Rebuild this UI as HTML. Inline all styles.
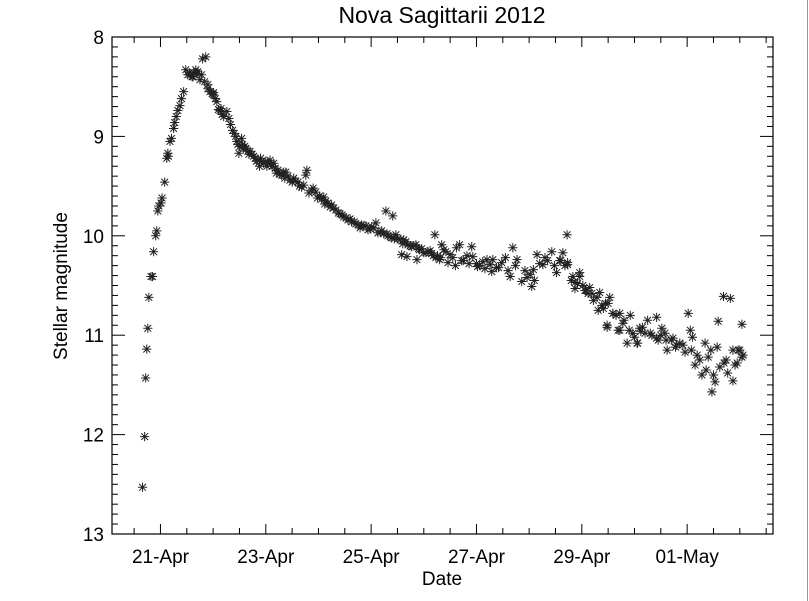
<!DOCTYPE html>
<html><head><meta charset="utf-8"><style>
html,body{margin:0;padding:0;background:#fff;}
svg{display:block;font-family:"Liberation Sans",Arial,sans-serif;}
</style></head><body>
<svg id="chart" width="809" height="601" viewBox="0 0 809 601">
<rect x="0" y="0" width="809" height="601" fill="#fff"/>
<line x1="807.5" y1="0" x2="807.5" y2="601" stroke="#999" stroke-width="1"/>
<text x="442" y="23" font-size="23" text-anchor="middle" fill="#000">Nova Sagittarii 2012</text>
<text x="442" y="585" font-size="19" text-anchor="middle" fill="#000">Date</text>
<text transform="translate(67,286) rotate(-90)" font-size="19" text-anchor="middle" fill="#000">Stellar magnitude</text>
<g id="ticks"></g>
<g id="marks"></g>
<rect x="112" y="37" width="661" height="497" fill="none" stroke="#000" stroke-width="1.2"/>
</svg>
<script>
// days since 21-Apr-2012 (00:00)
const dates = [-0.34,-0.30,-0.28,-0.26,-0.24,-0.22,-0.18,-0.15,-0.13,-0.09,-0.07,-0.05,-0.03,0.01,0.03,0.08,0.12,0.14,0.15,0.18,0.21,0.25,0.27,0.30,0.33,0.37,0.40,0.44,0.48,0.52,0.56,0.60,0.63,0.67,0.71,0.75,0.80,0.86,0.78,0.84,0.90,0.94,0.98,1.01,1.04,1.07,1.10,1.13,1.17,1.20,1.26,1.30,1.37,1.40,1.43,1.45,1.49,1.51,1.54,1.56,1.60,1.62,1.66,1.70,1.74,1.77,1.80,1.85,1.88,1.92,1.96,
2.00,2.08,2.15,2.23,2.30,2.38,2.46,2.53,2.61,2.68,2.78,2.76,2.87,2.95,3.02,3.10,3.18,3.25,3.33,3.41,3.48,3.56,3.63,3.71,3.79,3.86,3.94,4.01,4.09,4.17,4.24,4.32,4.39,4.28,4.41,4.47,4.55,4.62,4.70,4.77,4.85,4.92,5.00,5.08,5.15,5.23,5.30,4.58,4.68,4.87,5.21,
5.34,5.42,5.50,5.68,5.91,5.93,6.12,6.31,6.29,6.48,6.69,6.77,6.64,6.86,7.05,7.02,7.15,7.26,7.43,7.52,7.64,7.73,7.72,7.83,7.96,7.87,8.02,8.12,8.29,8.53,8.41,8.59,8.92,8.48,8.72,8.97,8.86,9.06,
7.73,7.87,7.96,8.06,8.19,8.34,8.31,8.48,8.59,8.72,8.69,9.05,9.10,9.25,9.42,9.52,9.42,9.62,9.73,9.86,9.96,10.02,10.06,10.19,10.15,10.28,10.34,10.40,10.47,10.53,10.57,10.59,10.69,10.82,10.70,10.77,10.87,10.91,10.87,11.00,11.04,11.04,10.97,
9.20,9.33,9.58,9.80,2.04,2.12,2.20,2.34,2.42,2.57,2.72,2.90,3.06,3.14,3.29,3.45,3.60,3.75,3.90,4.05,4.20,4.36,4.51,4.66,4.81,4.96,5.12,5.26,5.38,5.55,5.62,5.75,5.82,6.00,6.06,6.20,6.38,6.55,6.92,7.10,7.35,7.58,8.15,8.45,8.80,9.15,9.50,9.70,10.10,10.45,
0.55,0.62,0.69,0.90,1.00,1.15,1.33,1.47,1.58,1.68,1.82,1.90,2.02,2.10,2.18,2.27,2.36,2.50,2.64,2.82,2.98,3.12,3.22,3.38,3.52,3.68,3.82,3.98,4.13,4.30,4.44,4.60,4.74,4.90,5.04,5.18,5.32,5.46,5.60,5.72,5.86,6.02,6.16,6.26,6.42,6.60,6.74,6.96,7.08,7.20,7.30,7.48,7.60,7.68,7.80,7.92,8.08,8.22,8.38,8.50,8.65,8.78,8.90,9.00,9.12,9.30,9.45,9.60,9.78,9.92,10.08,10.24,10.36,10.50,10.62,10.74,10.95,11.06];
const mags = [12.53,12.02,11.43,11.14,10.93,10.62,10.41,10.41,10.16,10.00,9.95,9.75,9.70,9.67,9.62,9.46,9.22,9.17,9.20,9.05,9.02,8.92,8.86,8.80,8.74,8.69,8.62,8.55,8.33,8.38,8.38,8.40,8.36,8.33,8.35,8.43,8.22,8.20,8.38,8.45,8.48,8.55,8.57,8.56,8.62,8.65,8.73,8.74,8.78,8.80,8.75,8.82,8.94,8.97,9.00,9.05,9.17,9.10,9.02,9.08,9.10,9.12,9.15,9.15,9.18,9.20,9.22,9.24,9.30,9.25,9.27,
9.25,9.24,9.27,9.34,9.39,9.36,9.44,9.42,9.46,9.51,9.34,9.39,9.54,9.56,9.60,9.61,9.67,9.69,9.74,9.78,9.81,9.84,9.86,9.88,9.92,9.90,9.94,9.91,9.87,9.96,9.98,10.00,10.02,9.75,9.80,9.99,10.04,10.04,10.09,10.11,10.09,10.14,10.17,10.16,10.18,10.22,10.24,10.19,10.21,10.24,9.99,
10.09,10.16,10.19,10.09,10.11,10.21,10.26,10.24,10.36,10.27,10.12,10.24,10.41,10.46,10.51,10.39,10.19,10.29,10.16,10.37,10.17,10.27,9.99,10.41,10.37,10.53,10.50,10.58,10.62,10.62,10.73,10.78,10.80,10.92,10.95,10.98,11.08,11.08,
10.29,10.47,10.41,10.55,10.58,10.57,10.75,10.90,10.78,10.78,10.95,11.08,10.93,10.85,10.82,10.93,11.03,11.15,11.03,11.08,11.17,10.78,10.95,11.20,11.30,11.40,11.08,11.22,11.57,11.47,11.12,10.86,10.61,10.63,11.28,11.38,11.46,11.30,11.15,11.15,10.89,11.22,11.15,
10.98,11.00,10.98,11.10,9.27,9.30,9.37,9.36,9.40,9.45,9.49,9.52,9.63,9.65,9.72,9.79,9.83,9.89,9.90,9.92,9.95,10.01,10.03,10.06,10.10,10.13,10.15,10.20,10.14,10.22,10.12,10.25,10.20,10.28,10.30,10.24,10.32,10.22,10.35,10.45,10.25,10.25,10.52,10.68,10.85,10.92,11.00,11.05,11.02,11.15,
8.36,8.40,8.37,8.52,8.58,8.72,8.88,9.08,9.12,9.18,9.25,9.22,9.30,9.28,9.32,9.38,9.42,9.46,9.50,9.57,9.62,9.68,9.71,9.77,9.82,9.86,9.89,9.93,9.97,9.98,10.03,10.08,10.10,10.13,10.17,10.20,10.22,10.27,10.30,10.25,10.28,10.31,10.33,10.29,10.32,10.35,10.30,10.42,10.34,10.28,10.22,10.30,10.25,10.30,10.45,10.48,10.55,10.65,10.70,10.68,10.80,10.88,10.95,11.02,10.96,10.98,11.05,11.05,11.12,11.10,11.15,11.25,11.35,11.40,11.32,11.25,11.28,11.20];
const yTicks = [8,9,10,11,12,13];
const xTickDays = [0,2,4,6,8,10];
const xTickLabels = ["21-Apr","23-Apr","25-Apr","27-Apr","29-Apr","01-May"];

const L=112,R=773,T=37,B=534;
const xMin=-0.92, xMax=11.63, yMin=8, yMax=13;
function xs(d){return L+(d-xMin)/(xMax-xMin)*(R-L);}
function ys(m){return T+(m-yMin)/(yMax-yMin)*(B-T);}
const NS='http://www.w3.org/2000/svg';
const tg=document.getElementById('ticks');
function line(g,x1,y1,x2,y2,name){
  const l=document.createElementNS(NS,'line');
  l.setAttribute('x1',x1);l.setAttribute('y1',y1);l.setAttribute('x2',x2);l.setAttribute('y2',y2);
  l.setAttribute('stroke','#000');l.setAttribute('stroke-width','1');
  
  
  g.appendChild(l);return l;
}
function text(g,x,y,s,anchor,name){
  const t=document.createElementNS(NS,'text');
  t.setAttribute('x',x);t.setAttribute('y',y);t.setAttribute('font-size','19');
  t.setAttribute('text-anchor',anchor);t.textContent=s;
  
  
  g.appendChild(t);
}
for(let i=0;i<=50;i++){
  const m=yMin+i*0.1, y=ys(m), major=(i%10===0), len=major?13:6;
  line(tg,L,y,L+len,y,'y-tick');
  line(tg,R,y,R-len,y,'y-tick-right');
}
yTicks.forEach(v=>text(tg,L-8,ys(v)+7,String(v),'end','y-tick-label'));
for(let d=-0.5;d<=11.5;d+=0.5){
  const x=xs(d), major=xTickDays.includes(d), len=major?10:6;
  line(tg,x,B,x,B-len,'x-tick');
  line(tg,x,T,x,T+len,'x-tick-top');
}
xTickDays.forEach((d,i)=>text(tg,xs(d),563,xTickLabels[i],'middle','x-tick-label'));
const mg=document.getElementById('marks');
for(let i=0;i<dates.length;i++){
  const cx=xs(dates[i]), cy=ys(mags[i]), r=4.6, r2=3.4;
  const p=document.createElementNS(NS,'path');
  p.setAttribute('d',`M${cx-r} ${cy}H${cx+r}M${cx} ${cy-r}V${cy+r}M${cx-r2} ${cy-r2}L${cx+r2} ${cy+r2}M${cx-r2} ${cy+r2}L${cx+r2} ${cy-r2}`);
  p.setAttribute('stroke','#222');p.setAttribute('stroke-width','1');p.setAttribute('fill','none');
  
  
  mg.appendChild(p);
}
</script>
</body></html>
